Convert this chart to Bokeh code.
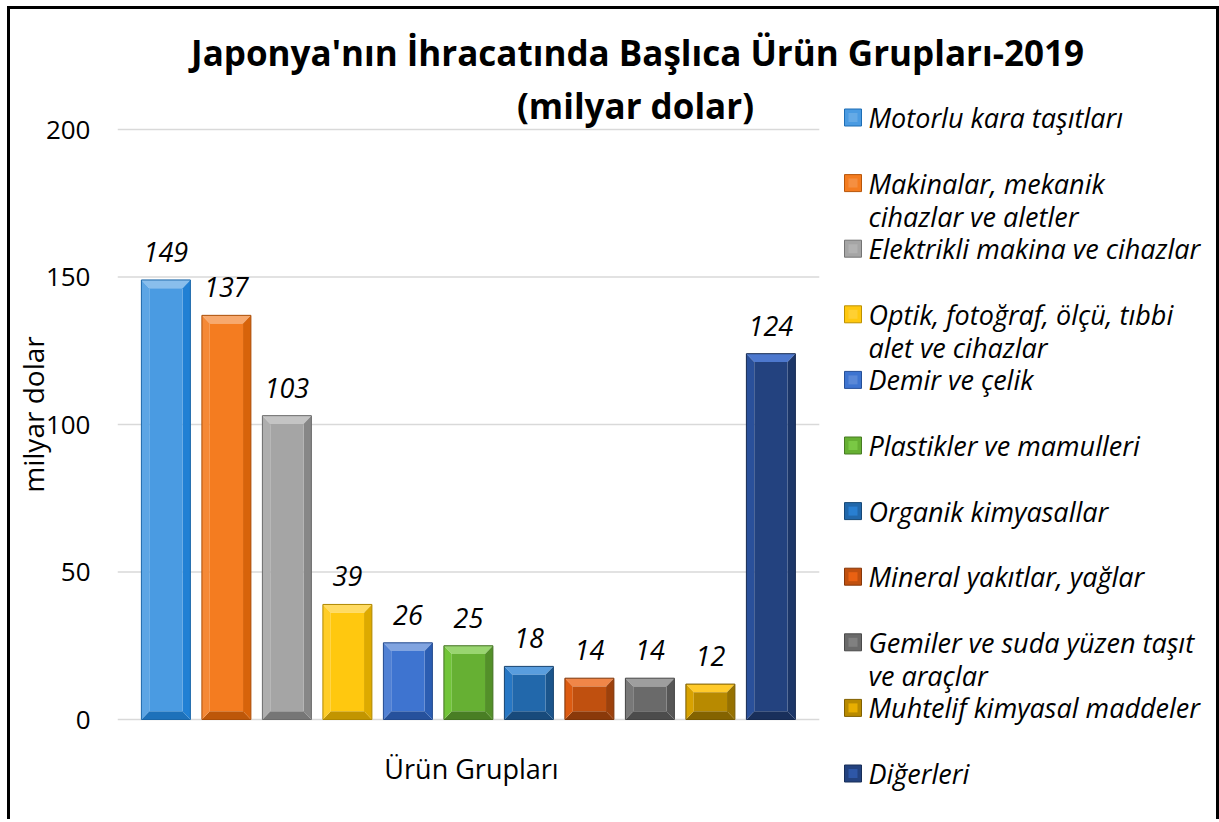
import colorsys
from bokeh.plotting import figure
from bokeh.models import FixedTicker, Range1d, ColumnDataSource
from bokeh.core.properties import value
from bokeh.embed import file_html
from bokeh.resources import INLINE

# ---------------- data ----------------
legend_labels = [
    "Motorlu kara taşıtları",
    "Makinalar, mekanik\ncihazlar ve aletler",
    "Elektrikli makina ve cihazlar",
    "Optik, fotoğraf, ölçü, tıbbi\nalet ve cihazlar",
    "Demir ve çelik",
    "Plastikler ve mamulleri",
    "Organik kimyasallar",
    "Mineral yakıtlar, yağlar",
    "Gemiler ve suda yüzen taşıt\nve araçlar",
    "Muhtelif kimyasal maddeler",
    "Diğerleri",
]
categories = [s.replace("\n", " ") for s in legend_labels]
values = [149, 137, 103, 39, 26, 25, 18, 14, 14, 12, 124]
colors = ["#4a9be2", "#f47c20", "#a5a5a5", "#ffc80f", "#3e74d0", "#66b033",
          "#2268ab", "#c0500f", "#6a6a6a", "#b88a00", "#23427f"]
y_ticks = [0, 50, 100, 150, 200]

TITLE1 = "Japonya'nın İhracatında Başlıca Ürün Grupları-2019"
TITLE2 = "(milyar dolar)"
Y_LABEL = "milyar dolar"
X_LABEL = "Ürün Grupları"

FONT = "Open Sans"

# ---------------- layout (page pixels) ----------------
W, H = 1212, 813                 # element incl. 3px border
CANVAS_X0, CANVAS_Y0 = 10, 9     # canvas origin on page
FRAME_L, FRAME_R = 117, 1216     # frame on page
FRAME_T, FRAME_B = 9, 819
PLOT_X0, PLOT_X1 = -0.8, 10.8    # category-axis extent of the plot area
PX_PER_X = 60.5
PX_PER_Y = 2.95
ZERO_Y = 719                     # page y of value 0


def dx(px):
    return (px - FRAME_L) / PX_PER_X + PLOT_X0


def dy(py):
    return (ZERO_Y - py) / PX_PER_Y


def shade(hexcol, f):
    r, g, b = (int(hexcol[i:i + 2], 16) / 255 for i in (1, 3, 5))
    h, l, s = colorsys.rgb_to_hls(r, g, b)
    l = max(0, min(1, l * f if f < 1 else l + (1 - l) * (f - 1)))
    r, g, b = colorsys.hls_to_rgb(h, l, s)
    return "#%02x%02x%02x" % (int(r * 255), int(g * 255), int(b * 255))


# ---------------- figure ----------------
p = figure(width=W, height=H, output_backend="svg", toolbar_location=None,
           x_range=Range1d(dx(FRAME_L), dx(FRAME_R)),
           y_range=Range1d(dy(FRAME_B), dy(FRAME_T)),
           min_border_left=FRAME_L - CANVAS_X0,
           min_border_right=W - (FRAME_R - CANVAS_X0),
           min_border_top=FRAME_T - CANVAS_Y0,
           min_border_bottom=H - (FRAME_B - CANVAS_Y0))
p.title.visible = False
p.styles = {"border-left": "3px solid black", "border-right": "3px solid black",
            "border-top": "3px solid black", "margin-left": "7px",
            "margin-top": "6px"}
p.outline_line_color = None
p.background_fill_color = "white"
p.border_fill_color = "white"
p.xaxis.visible = False
p.xgrid.visible = False
p.ygrid.visible = False
p.yaxis.ticker = FixedTicker(ticks=y_ticks)
p.yaxis.axis_line_color = None
p.yaxis.major_tick_line_color = None
p.yaxis.minor_tick_line_color = None
p.yaxis.major_tick_out = 0
p.yaxis.major_tick_in = 0
p.yaxis.major_label_standoff = 27
p.yaxis.major_label_text_font = FONT
p.yaxis.major_label_text_font_size = "26px"
p.yaxis.major_label_text_color = "black"
p.yaxis.axis_label = Y_LABEL
p.yaxis.axis_label_text_font = FONT
p.yaxis.axis_label_text_font_size = "28px"
p.yaxis.axis_label_text_font_style = "normal"
p.yaxis.axis_label_text_color = "black"
p.yaxis.axis_label_standoff = -9

# gridlines over the plot area only
p.segment(x0=[PLOT_X0] * len(y_ticks), x1=[PLOT_X1] * len(y_ticks),
          y0=y_ticks, y1=y_ticks, line_color="#d9d9d9", line_width=1.5)

# ---------------- bevelled bars ----------------
hw = 0.405      # half bar width (x units)
bx = 0.13       # bevel width (x units)
by = 2.8        # bevel height (y units)
xs = list(range(len(values)))

faces = dict(left=[], right=[], top=[], bottom=[], color=[])
bev_x, bev_y, bev_c = [], [], []
for c, v, col in zip(xs, values, colors):
    faces["left"].append(c - hw + bx)
    faces["right"].append(c + hw - bx)
    faces["bottom"].append(by)
    faces["top"].append(v - by)
    faces["color"].append(col)
    bev_x.append([c - hw, c + hw, c + hw - bx, c - hw + bx])
    bev_y.append([v, v, v - by, v - by])
    bev_c.append(shade(col, 1.35))
    bev_x.append([c - hw, c + hw, c + hw - bx, c - hw + bx])
    bev_y.append([0, 0, by, by])
    bev_c.append(shade(col, 0.72))
    bev_x.append([c - hw, c - hw, c - hw + bx, c - hw + bx])
    bev_y.append([0, v, v - by, by])
    bev_c.append(shade(col, 1.1))
    bev_x.append([c + hw, c + hw, c + hw - bx, c + hw - bx])
    bev_y.append([0, v, v - by, by])
    bev_c.append(shade(col, 0.82))

p.patches(bev_x, bev_y, fill_color=bev_c, line_color=None)
p.quad(source=ColumnDataSource(faces), left="left", right="right", bottom="bottom",
       top="top", fill_color="color", line_color=None)
outline = dict(x=xs, top=values, line=[shade(c, 0.65) for c in colors])
p.vbar(x="x", top="top", width=2 * hw, source=ColumnDataSource(outline),
       fill_color=None, line_color="line", line_width=1)

# value labels
p.text(x=xs, y=values, text=[str(v) for v in values], y_offset=-28,
       text_align="center", text_baseline="middle",
       text_font=value(FONT), text_font_style="italic",
       text_font_size="27px", text_color="black")


def txt(text, px, py, size, style="normal", align="center"):
    p.text(x=[dx(px)], y=[dy(py)], text=[text], text_align=align,
           text_baseline="middle", text_font=value(FONT),
           text_font_style=style, text_font_size=size, text_color="black")


# titles
txt(TITLE1, 637, 52, "35px", "bold")
txt(TITLE2, 635, 105, "35px", "bold")
txt(X_LABEL, 471, 768, "27px")

# ---------------- legend ----------------
LEG_SQ_X, LEG_TXT_X = 852.5, 868
LEG_Y0, LEG_DY, LEG_LINE = 117, 65.6, 33
sq_x, sq_y, sq_c, sq_l = [], [], [], []
for i, (lbl, col) in enumerate(zip(legend_labels, colors)):
    yc = LEG_Y0 + LEG_DY * i
    sq_x.append(dx(LEG_SQ_X))
    sq_y.append(dy(yc))
    sq_c.append(col)
    sq_l.append(shade(col, 0.7))
    for j, line in enumerate(lbl.split("\n")):
        txt(line, LEG_TXT_X, yc + LEG_LINE * j, "27px", "italic", align="left")
p.rect(x=sq_x, y=sq_y, width=17, height=17, width_units="screen",
       height_units="screen", fill_color=sq_c, line_color=sq_l, line_width=1)
p.rect(x=sq_x, y=sq_y, width=9, height=9, width_units="screen",
       height_units="screen", fill_color=[shade(c, 1.15) for c in sq_c],
       line_color=None)

open("out.html", "w").write(file_html(p, INLINE))
